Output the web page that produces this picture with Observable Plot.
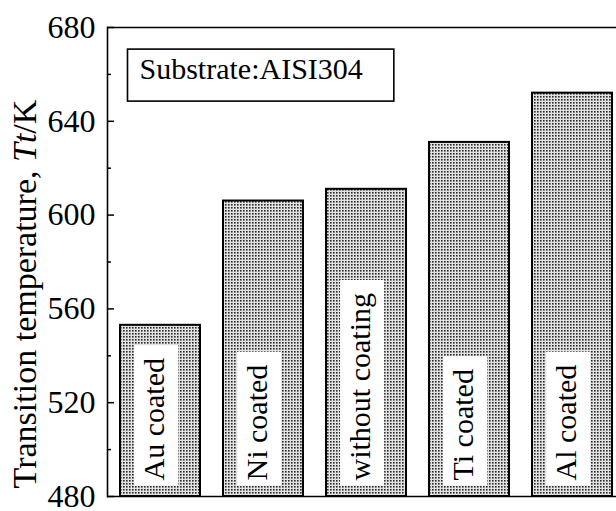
<!DOCTYPE html>
<html><head><meta charset="utf-8">
<script src="https://cdn.jsdelivr.net/npm/d3@7"></script>
<script src="https://cdn.jsdelivr.net/npm/@observablehq/plot@0.6"></script>
<style>
  html,body{margin:0;padding:0;background:#fff;overflow:hidden}
  svg{font-family:"Liberation Serif","Times New Roman",serif}
</style>
</head><body><div id="chart"></div>
<script>
// ---- data ----
const categories = ["Au coated", "Ni coated", "without coating", "Ti coated", "Al coated"];
const values = [553, 606, 611, 631, 652];
const majorTicks = [480, 520, 560, 600, 640, 680];
const minorTicks = [500, 540, 580, 620, 660];
const legendText = "Substrate:AISI304";
const yLabelParts = [["Transition temperature, ", false], ["Tt", true], ["/K", false]];

const data = categories.map((c, i) => ({category: c, value: values[i]}));
const yLabel = yLabelParts.map(d => d[0]).join("");

const W = 616, H = 511, ML = 107, MT = 27, MB = 15;
const frameW = W - ML;

const plot = Plot.plot({
  width: W, height: H,
  marginLeft: ML, marginRight: 0, marginTop: MT, marginBottom: MB,
  style: {fontFamily: "Liberation Serif", background: "white", color: "black"},
  x: {domain: categories, range: [107, 625], paddingInner: 0.227, paddingOuter: 0.116, axis: null},
  y: {domain: [480, 680], axis: null},
  marks: [
    Plot.barY(data, {x: "category", y1: 480, y2: "value", fill: "url(#dots)", stroke: "black", strokeWidth: 2, clip: true}),
    Plot.text(data, {x: "category", y: 480, text: "category", rotate: -90, textAnchor: "start",
      lineAnchor: "middle", fontSize: 30, dx: -6, dy: -16, fill: "black", clip: true}),
    // frame lines
    Plot.ruleY([680], {stroke: "black", strokeWidth: 1.6}),
    Plot.ruleY([480], {stroke: "black", strokeWidth: 1.6}),
    Plot.frame({anchor: "left", stroke: "black", strokeWidth: 1.6}),
    // inward ticks
    Plot.ruleY(majorTicks, {y: d => d, insetRight: frameW - 7, stroke: "black", strokeWidth: 1.5}),
    Plot.ruleY(minorTicks, {y: d => d, insetRight: frameW - 4, stroke: "black", strokeWidth: 1.5}),
    // tick labels
    Plot.axisY({ticks: majorTicks, tickSize: 0, tickPadding: 12, fontSize: 32, label: null}),
    // legend
    Plot.text([legendText], {frameAnchor: "top-left", dx: 32, dy: 42, textAnchor: "start",
      lineAnchor: "middle", fontSize: 30, fill: "black"}),
    // y label
    Plot.text([yLabel], {frameAnchor: "left", rotate: -90, textAnchor: "middle", lineAnchor: "middle",
      dx: -82, dy: 32, fontSize: 34, fill: "black"})
  ]
});

document.getElementById("chart").appendChild(plot);
const svg = d3.select(plot);

// stipple pattern
const defs = svg.insert("defs", ":first-child");
const pat = defs.append("pattern").attr("id", "dots").attr("patternUnits", "userSpaceOnUse")
  .attr("width", 3).attr("height", 3);
pat.append("rect").attr("width", 3).attr("height", 3).attr("fill", "#e2e2e2");
pat.append("rect").attr("width", 1.6).attr("height", 1.6).attr("fill", "#2a2a2a");

function boxBehind(node, pads, fill, stroke) {
  const bb = node.getBBox();
  const r = document.createElementNS("http://www.w3.org/2000/svg", "rect");
  r.setAttribute("x", bb.x - pads.l);
  r.setAttribute("y", bb.y - pads.t);
  r.setAttribute("width", bb.width + pads.l + pads.r);
  r.setAttribute("height", bb.height + pads.t + pads.b);
  const tr = node.getAttribute("transform");
  if (tr) r.setAttribute("transform", tr);
  r.setAttribute("fill", fill);
  if (stroke) { r.setAttribute("stroke", stroke); r.setAttribute("stroke-width", 1.6); }
  node.parentNode.insertBefore(r, node);
}

// text mark groups, in mark order: bar labels, legend, y label
const textGroups = svg.selectAll('g[aria-label="text"]').nodes();
const [barLabelG, legendG, yLabelG] = textGroups;

d3.select(barLabelG).selectAll("text").each(function() {
  boxBehind(this, {l: 5, r: 13, t: 3, b: 8}, "white", null);
});
d3.select(legendG).selectAll("text").each(function() {
  boxBehind(this, {l: 12, r: 31, t: 3, b: 16}, "white", "black");
});
d3.select(yLabelG).selectAll("text").each(function() {
  const t = d3.select(this);
  t.text(null);
  yLabelParts.forEach(([s, it]) => {
    const ts = t.append("tspan").text(s);
    if (it) ts.attr("font-style", "italic");
  });
});
</script>
</body></html>
